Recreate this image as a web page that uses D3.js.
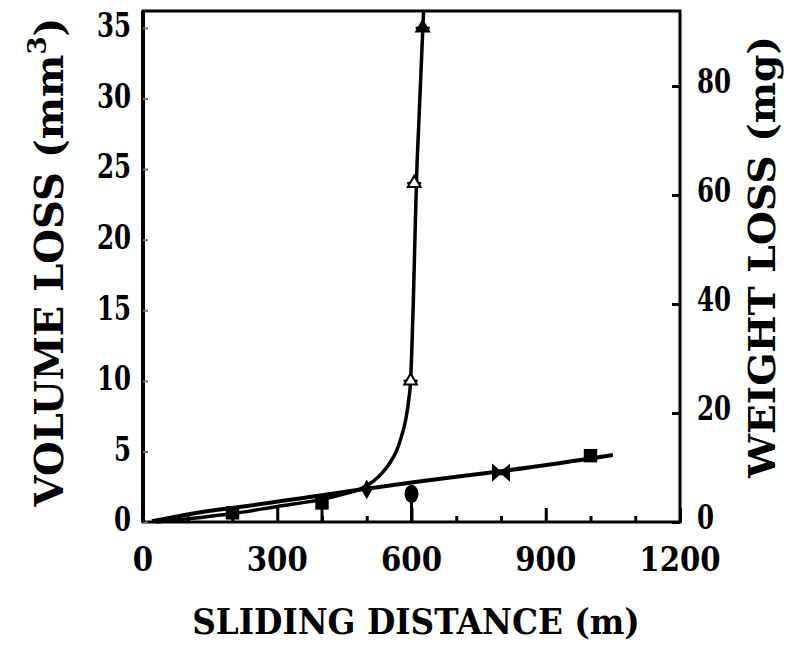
<!DOCTYPE html>
<html><head><meta charset="utf-8">
<script src="https://cdn.jsdelivr.net/npm/d3@7"></script>
<style>body{margin:0;background:#fff;} svg{display:block;background:#fff}</style>
</head><body><svg id="c" width="789" height="652"></svg>
<script>
// ---- data ----
const xMajorTicks = [0, 300, 600, 900, 1200];
const xMinorTicks = [100, 200, 400, 500, 700, 800, 1000, 1100];
const yLeftTicks = [0, 5, 10, 15, 20, 25, 30, 35];
const yRightTicks = [0, 20, 40, 60, 80];

// linear wear fit
const lineX = [20, 150, 200, 400, 600, 800, 1000, 1050];
const lineY = [0.05, 0.8, 1.0, 1.9, 2.8, 3.6, 4.5, 4.75];

// steep (seizure) curve
const curveX = [30, 200, 300, 400, 450, 490, 515, 535, 552, 566, 578, 588, 594, 598, 601, 604, 608, 612, 616, 620, 624, 627];
const curveY = [0, 0.6, 1.1, 1.6, 2.0, 2.4, 2.9, 3.5, 4.2, 5.0, 6.1, 7.4, 8.7, 10.0, 12.5, 15.5, 20.5, 25.0, 28.0, 31.0, 34.0, 36.2];

// measured points, linear series
const lowX = [200, 400, 500, 600, 800, 1000];
const lowY = [0.65, 1.35, 2.3, 2.0, 3.5, 4.7];
const lowErrLo = [0, 0, 2.1, 0, 3.3, 4.5];
const lowErrHi = [1.0, 1.7, 2.5, 2.6, 3.7, 4.9];
const lowShape = ["square", "square", "diamond", "circle", "bowtie", "square"];

// measured points, steep series
const upX = [598, 606, 625];
const upY = [10, 24, 35];

// ---- layout ----
const svg = d3.select("#c");
const x = d3.scaleLinear().domain([0, 1200]).range([143, 680]);
const y = d3.scaleLinear().domain([0, 36.2]).range([522, 11]);
const y2 = d3.scaleLinear().domain([0, 80]).range([522, 86]);

const FONT = "'DejaVu Serif', 'Liberation Serif', serif";

// frame
svg.append("rect").attr("x", x(0)).attr("y", y(36.2))
  .attr("width", x(1200) - x(0)).attr("height", y(0) - y(36.2))
  .attr("fill", "none").attr("stroke", "#000").attr("stroke-width", 3);
svg.append("line").attr("x1", x(0)).attr("x2", x(0)).attr("y1", y(36.2)).attr("y2", y(0))
  .attr("stroke", "#000").attr("stroke-width", 4);

// axes (ticks inward)
const gl = svg.append("g").attr("transform", `translate(${x(0)},0)`)
  .call(d3.axisLeft(y).tickValues(yLeftTicks).tickSize(-5).tickFormat(""));
gl.select(".domain").remove();
gl.selectAll("line").attr("stroke", "#777").attr("stroke-width", 2);

const gr = svg.append("g").attr("transform", `translate(${x(1200)},0)`)
  .call(d3.axisRight(y2).tickValues(yRightTicks).tickSize(-8).tickFormat(""));
gr.select(".domain").remove();
gr.selectAll("line").attr("stroke", "#000").attr("stroke-width", 3);

const gbM = svg.append("g").attr("transform", `translate(0,${y(0)})`)
  .call(d3.axisBottom(x).tickValues(xMajorTicks).tickSize(-14).tickFormat(""));
gbM.select(".domain").remove();
gbM.selectAll("line").attr("stroke", "#000").attr("stroke-width", 3);
const gbm = svg.append("g").attr("transform", `translate(0,${y(0)})`)
  .call(d3.axisBottom(x).tickValues(xMinorTicks).tickSize(-6).tickFormat(""));
gbm.select(".domain").remove();
gbm.selectAll("line").attr("stroke", "#000").attr("stroke-width", 3);

// tick labels (condensed serif digits)
function lab(tx, ty, txt, size, anchor, sx) {
  svg.append("text").attr("transform", `translate(${tx},${ty}) scale(${sx},1)`)
    .attr("text-anchor", anchor).attr("dy", "0.36em")
    .attr("font-family", FONT).attr("font-weight", "bold").attr("font-size", size)
    .attr("fill", "#000").text(txt);
}
xMajorTicks.forEach(v => lab(x(v), 559, String(v), 34, "middle", 0.86));
yLeftTicks.forEach(v => lab(131, y(v) - 3, String(v), 34, "end", 0.72));
yRightTicks.forEach(v => lab(697, y2(v) - 5, String(v), 34, "start", 0.72));

// titles, fitted to measured lengths
function fitTitle(tx, ty, rot, len, size, build) {
  const g = svg.append("g").attr("transform", `translate(${tx},${ty}) rotate(${rot})`);
  const t = g.append("text").attr("text-anchor", "middle")
    .attr("font-family", FONT).attr("font-weight", "bold").attr("font-size", size);
  build(t);
  const w = t.node().getBBox().width;
  t.attr("transform", `scale(${len / w},1)`);
}
fitTitle(416, 634, 0, 448, 36, t => t.text("SLIDING DISTANCE (m)"));
fitTitle(63, 262, -90, 490, 40, t => {
  t.append("tspan").text("VOLUME LOSS (mm");
  t.append("tspan").attr("font-size", 26).attr("dy", -17).text("3");
  t.append("tspan").attr("dy", 17).text(")");
});
fitTitle(775, 257, -90, 443, 37, t => t.text("WEIGHT LOSS (mg)"));

// lines
const lineGen = d3.line().x(d => x(d[0])).y(d => y(d[1])).curve(d3.curveMonotoneX);
svg.append("path").datum(lineX.map((v, i) => [v, lineY[i]])).attr("d", lineGen)
  .attr("fill", "none").attr("stroke", "#000").attr("stroke-width", 4);
svg.append("path").datum(curveX.map((v, i) => [v, curveY[i]])).attr("d", lineGen)
  .attr("fill", "none").attr("stroke", "#000").attr("stroke-width", 3.5);

// error bars, lower series
lowX.forEach((v, i) => {
  svg.append("line").attr("x1", x(v)).attr("x2", x(v))
    .attr("y1", y(lowErrHi[i])).attr("y2", y(lowErrLo[i]))
    .attr("stroke", "#000").attr("stroke-width", 3);
});
// markers, lower series
const sym = { square: d3.symbolSquare, diamond: d3.symbolDiamond };
lowX.forEach((v, i) => {
  const s = lowShape[i];
  const cx = x(v), cy = y(lowY[i]);
  if (s === "bowtie") {
    svg.append("path").attr("d", `M${cx-8},${cy-7}L${cx+8},${cy+7}L${cx+8},${cy-7}L${cx-8},${cy+7}Z`)
      .attr("fill", "#000").attr("stroke", "#000").attr("stroke-width", 2);
  } else if (s === "circle") {
    svg.append("ellipse").attr("cx", cx).attr("cy", cy).attr("rx", 7).attr("ry", 9).attr("fill", "#000");
  } else {
    svg.append("path").attr("transform", `translate(${cx},${cy})`)
      .attr("d", d3.symbol(sym[s], s === "square" ? 180 : 110)()).attr("fill", "#000");
  }
});
// markers, steep series
upX.forEach((v, i) => {
  const cx = x(v), cy = y(upY[i]);
  svg.append("line").attr("x1", cx - 7).attr("x2", cx + 7).attr("y1", cy).attr("y2", cy)
    .attr("stroke", "#000").attr("stroke-width", 2.5);
  svg.append("path").attr("transform", `translate(${cx},${cy})`)
    .attr("d", d3.symbol(d3.symbolTriangle, 70)())
    .attr("fill", i === 2 ? "#000" : "#fff").attr("stroke", "#000").attr("stroke-width", 2);
});
</script></body></html>
